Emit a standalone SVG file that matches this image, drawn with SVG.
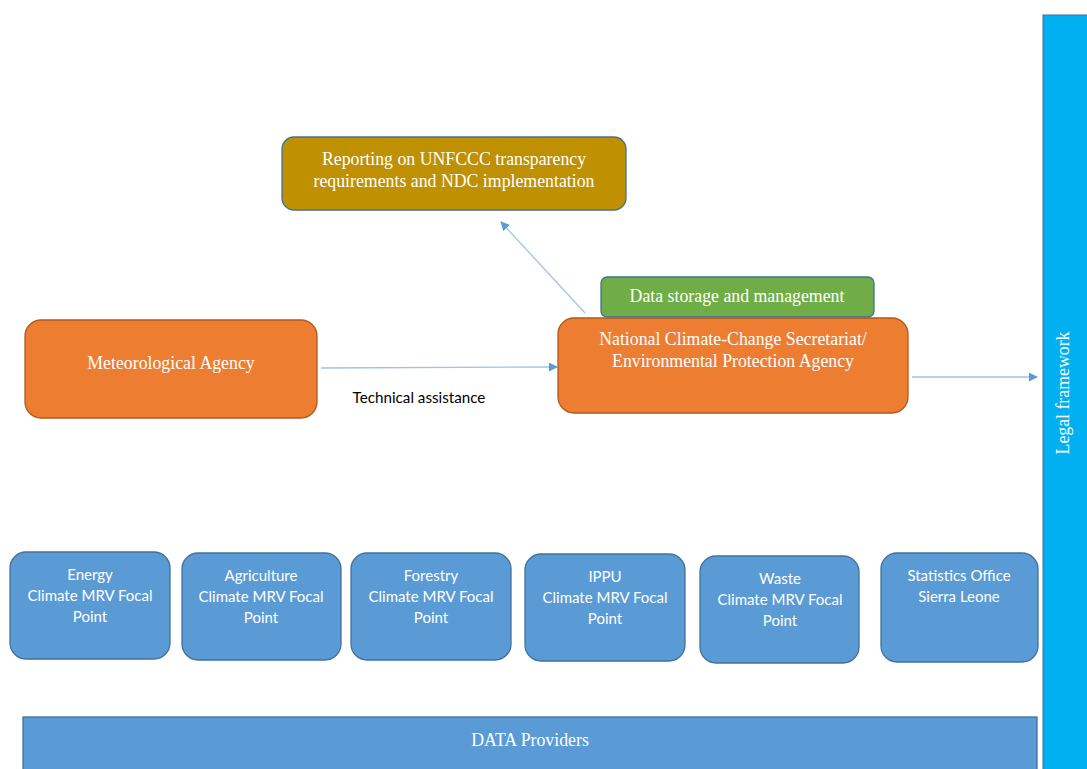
<svg xmlns="http://www.w3.org/2000/svg" width="1087" height="769" viewBox="0 0 1087 769">
<defs>
<marker id="ah" viewBox="0 0 10 10" refX="9" refY="5" markerWidth="9" markerHeight="9" markerUnits="userSpaceOnUse" orient="auto">
<path d="M0,0 L10,5 L0,10 z" fill="#5B9BD5"/>
</marker>
<style>
.serif{font-family:"Liberation Serif","Times New Roman",serif;fill:#fff;font-size:17.8px;text-anchor:middle}
.sans{font-family:Lato,"Liberation Sans",sans-serif;fill:#fff;font-size:15px;text-anchor:middle}
.blue{fill:#5B9BD5;stroke:#41719C;stroke-width:1.3}
.orange{fill:#ED7D31;stroke:#AE5A21;stroke-width:1.3}
.conn{stroke:#9DC3E6;stroke-width:1.3;fill:none;marker-end:url(#ah)}
</style>
</defs>
<rect width="1087" height="769" fill="#fff"/>
<g id="legal-framework">
<rect x="1043" y="15" width="46" height="760" fill="#00B0F0" stroke="#41719C" stroke-width="1"/>
<text class="serif" transform="translate(1069,393) rotate(-90)">Legal framework</text>
</g>
<g id="reporting">
<rect x="282" y="137" width="344" height="73" rx="12" fill="#BF9000" stroke="#41719C" stroke-width="1.3"/>
<text class="serif" x="454" y="165">Reporting on UNFCCC transparency</text>
<text class="serif" x="454" y="187">requirements and NDC implementation</text>
</g>
<g id="data-storage">
<rect x="601" y="277" width="273" height="40" rx="6" fill="#70AD47" stroke="#41719C" stroke-width="1.3"/>
<text class="serif" x="737" y="302">Data storage and management</text>
</g>
<g id="nccs">
<rect x="558" y="318" width="350" height="95" rx="16" class="orange"/>
<text class="serif" x="733" y="345">National Climate-Change Secretariat/</text>
<text class="serif" x="733" y="367">Environmental Protection Agency</text>
</g>
<g id="met-agency">
<rect x="25" y="320" width="292" height="98" rx="16" class="orange"/>
<text class="serif" x="171" y="369">Meteorological Agency</text>
</g>
<g id="connectors">
<line x1="321" y1="368" x2="557" y2="367" class="conn"/>
<line x1="585" y1="313" x2="501" y2="222" class="conn"/>
<line x1="912" y1="377" x2="1037" y2="377" class="conn"/>
<text x="419" y="403" font-family="Lato,'Liberation Sans',sans-serif" font-size="15.2" fill="#000" text-anchor="middle">Technical assistance</text>
</g>
<g id="energy">
<rect x="10" y="552" width="160" height="107" rx="16" class="blue"/>
<text class="sans" x="90" y="580">Energy</text>
<text class="sans" x="90" y="601">Climate MRV Focal</text>
<text class="sans" x="90" y="622">Point</text>
</g>
<g id="agriculture">
<rect x="182" y="553" width="159" height="107" rx="16" class="blue"/>
<text class="sans" x="261" y="581">Agriculture</text>
<text class="sans" x="261" y="602">Climate MRV Focal</text>
<text class="sans" x="261" y="623">Point</text>
</g>
<g id="forestry">
<rect x="351" y="553" width="160" height="107" rx="16" class="blue"/>
<text class="sans" x="431" y="581">Forestry</text>
<text class="sans" x="431" y="602">Climate MRV Focal</text>
<text class="sans" x="431" y="623">Point</text>
</g>
<g id="ippu">
<rect x="525" y="554" width="160" height="107" rx="16" class="blue"/>
<text class="sans" x="605" y="582">IPPU</text>
<text class="sans" x="605" y="603">Climate MRV Focal</text>
<text class="sans" x="605" y="624">Point</text>
</g>
<g id="waste">
<rect x="700" y="556" width="159" height="107" rx="16" class="blue"/>
<text class="sans" x="780" y="584">Waste</text>
<text class="sans" x="780" y="605">Climate MRV Focal</text>
<text class="sans" x="780" y="626">Point</text>
</g>
<g id="statistics">
<rect x="881" y="553" width="157" height="109" rx="16" class="blue"/>
<text class="sans" x="959" y="581">Statistics Office</text>
<text class="sans" x="959" y="602">Sierra Leone</text>
</g>
<g id="data-providers">
<rect x="23" y="717" width="1014" height="60" class="blue"/>
<text class="serif" x="530" y="746">DATA Providers</text>
</g>
</svg>
